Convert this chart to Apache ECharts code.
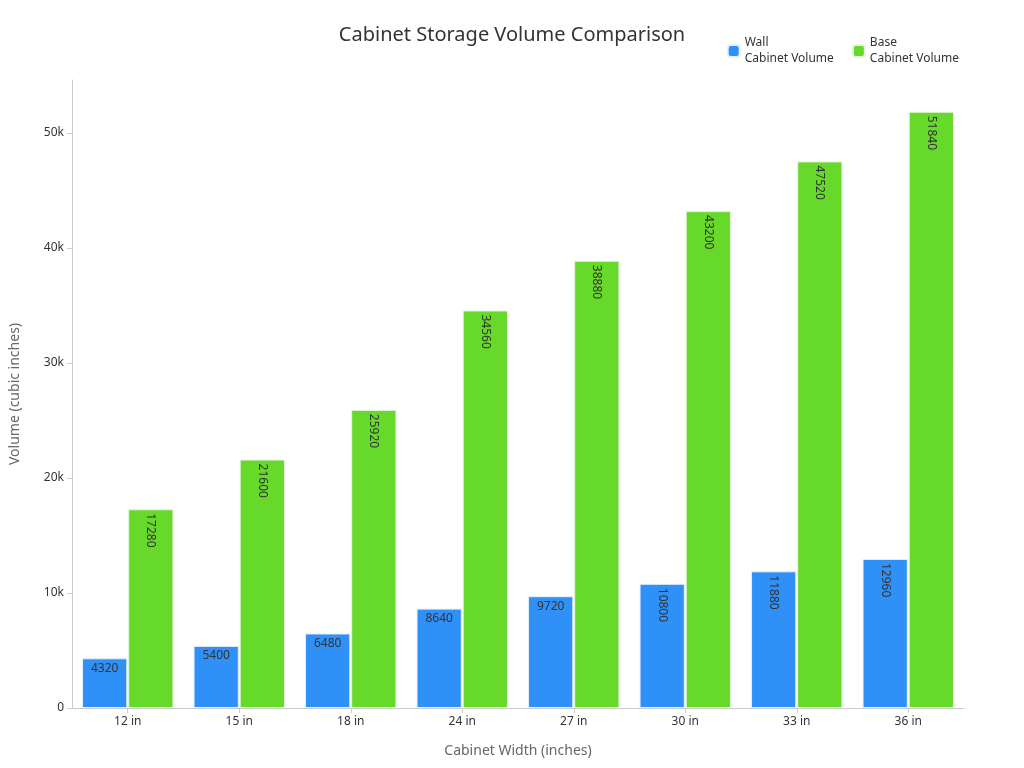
<!DOCTYPE html>
<html>
<head>
<meta charset="UTF-8">
<script src="https://cdn.jsdelivr.net/npm/echarts@6/dist/echarts.min.js"></script>
<style>html,body{margin:0;padding:0;background:#fff}#main{width:1024px;height:768px}</style>
</head>
<body>
<div id="main"></div>
<script>
// data
const widths = ['12 in', '15 in', '18 in', '24 in', '27 in', '30 in', '33 in', '36 in'];
const wallVolume = [4320, 5400, 6480, 8640, 9720, 10800, 11880, 12960];
const baseVolume = [17280, 21600, 25920, 34560, 38880, 43200, 47520, 51840];

let myChart = echarts.init(document.getElementById('main'));

// long bars get vertical labels
function withLabels(values) {
    return values.map(function (v) {
        return v >= 10000
            ? { value: v, label: { rotate: -90, position: 'insideTop', align: 'left', verticalAlign: 'middle', offset: [0, 0] } }
            : { value: v };
    });
}

let option = {
    textStyle: { fontFamily: 'Noto Sans' },
    title: {
        text: 'Cabinet Storage Volume Comparison',
        left: 'center',
        top: 20,
        textStyle: { fontSize: 20, fontWeight: 'normal', color: '#333' }
    },
    legend: {
        right: 60,
        top: 30,
        itemWidth: 12,
        itemHeight: 12,
        itemGap: 18,
        textStyle: { fontSize: 12, color: '#333', lineHeight: 16 },
        data: ['Wall\nCabinet Volume', 'Base\nCabinet Volume']
    },
    grid: { left: 68, right: 60, top: 80, bottom: 60 },
    xAxis: {
        type: 'category',
        data: widths,
        name: 'Cabinet Width (inches)',
        nameLocation: 'middle',
        nameGap: 36,
        nameTextStyle: { fontSize: 14, color: '#666' },
        axisLine: { lineStyle: { color: '#ccc' } },
        axisTick: { show: true, alignWithLabel: true, lineStyle: { color: '#ccc' } },
        axisLabel: { color: '#333', fontSize: 12 }
    },
    yAxis: {
        type: 'value',
        min: 0,
        max: 54600,
        interval: 10000,
        name: 'Volume (cubic inches)',
        nameLocation: 'middle',
        nameGap: 50,
        nameTextStyle: { fontSize: 14, color: '#666' },
        axisLine: { show: true, lineStyle: { color: '#ccc' } },
        axisTick: { show: true, lineStyle: { color: '#ccc' } },
        splitLine: { show: false },
        axisLabel: {
            color: '#333', fontSize: 12, showMaxLabel: false,
            formatter: function (v) { return v === 0 ? '0' : (v / 1000) + 'k'; }
        }
    },
    series: [
        {
            name: 'Wall\nCabinet Volume',
            type: 'bar',
            barGap: '2%',
            barCategoryGap: '18%',
            itemStyle: { color: '#2f91f7', borderColor: '#e6f0fb', borderWidth: 1 },
            label: { show: true, position: 'insideTop', color: '#333', fontSize: 12, distance: 4 },
            data: withLabels(wallVolume)
        },
        {
            name: 'Base\nCabinet Volume',
            type: 'bar',
            itemStyle: { color: '#66d92b', borderColor: '#e6f6dc', borderWidth: 1 },
            label: { show: true, position: 'insideTop', color: '#333', fontSize: 12, distance: 4 },
            data: withLabels(baseVolume)
        }
    ]
};

myChart.setOption(option);
</script>
</body>
</html>
